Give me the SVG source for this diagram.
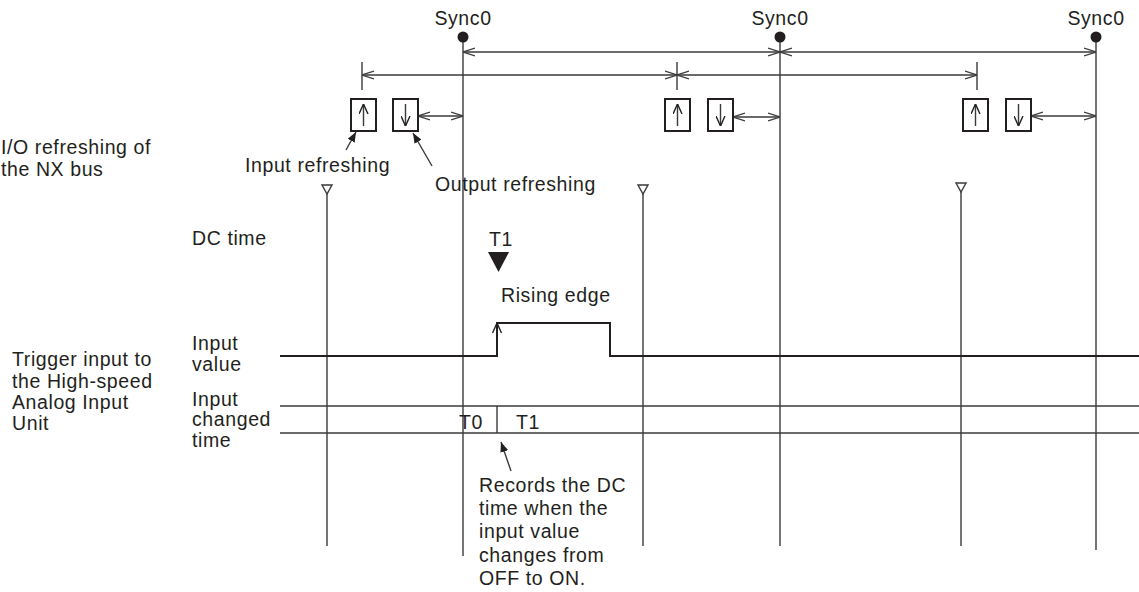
<svg xmlns="http://www.w3.org/2000/svg" width="1139" height="592" viewBox="0 0 1139 592">
<style>
text{font-family:"Liberation Sans",Arial,sans-serif;font-size:19.5px;letter-spacing:0.6px;fill:#231f20}
.ln{stroke:#3a3a3a;stroke-width:1.4;fill:none}
.dim{stroke:#3a3a3a;stroke-width:1.3;fill:none;marker-start:url(#oa);marker-end:url(#oa)}
.box{stroke:#231f20;stroke-width:2;fill:#fff}
.sig{stroke:#231f20;stroke-width:2;fill:none}
.tri{stroke:#3a3a3a;stroke-width:1.4;fill:#fff}
.c{text-anchor:middle}
</style>
<defs>
<marker id="oa" viewBox="0 0 12 10" refX="12" refY="5" markerWidth="12" markerHeight="10" markerUnits="userSpaceOnUse" orient="auto-start-reverse">
<path d="M0,1 L12,5 L0,9" fill="none" stroke="#3a3a3a" stroke-width="1.3"/>
</marker>
<marker id="fa" viewBox="0 0 10 8" refX="10" refY="4" markerWidth="10" markerHeight="8" markerUnits="userSpaceOnUse" orient="auto">
<path d="M0,0 L10,4 L0,8 z" fill="#231f20"/>
</marker>
<marker id="sa" viewBox="0 0 10 10" refX="10" refY="5" markerWidth="10" markerHeight="10" markerUnits="userSpaceOnUse" orient="auto">
<path d="M0,0.5 L10,5 L0,9.5" fill="none" stroke="#231f20" stroke-width="1.4"/>
</marker>
</defs>

<g id="connectors">
<line class="ln" x1="463" y1="37" x2="463" y2="556"/>
<line class="ln" x1="780" y1="37" x2="780" y2="546"/>
<line class="ln" x1="1096" y1="37" x2="1096" y2="550"/>
<line class="ln" x1="327" y1="194" x2="327" y2="546"/>
<line class="ln" x1="643" y1="194" x2="643" y2="546"/>
<line class="ln" x1="961" y1="192" x2="961" y2="546"/>
<line class="dim" x1="463" y1="52" x2="780" y2="52"/>
<line class="dim" x1="780" y1="52" x2="1096" y2="52"/>
<line class="ln" x1="362" y1="62" x2="362" y2="90"/>
<line class="ln" x1="677" y1="62" x2="677" y2="90"/>
<line class="ln" x1="977" y1="62" x2="977" y2="90"/>
<line class="dim" x1="362" y1="75" x2="677" y2="75"/>
<line class="dim" x1="677" y1="75" x2="977" y2="75"/>
<line class="dim" x1="418" y1="116" x2="463" y2="116"/>
<line class="dim" x1="733" y1="117" x2="780" y2="117"/>
<line class="dim" x1="1031" y1="116" x2="1096" y2="116"/>
<line class="ln" x1="346" y1="150" x2="356" y2="132" style="marker-end:url(#fa)"/>
<line class="ln" x1="432" y1="166" x2="413" y2="133" style="marker-end:url(#fa)"/>
<line class="ln" x1="511" y1="471" x2="501" y2="442" style="marker-end:url(#fa)"/>
<path class="sig" d="M280,356 H497 V323 H610 V356 H1139"/>
<line class="sig" x1="497" y1="340" x2="497" y2="323" style="marker-end:url(#sa)"/>
<line class="ln" x1="280" y1="406" x2="1139" y2="406"/>
<line class="ln" x1="280" y1="433" x2="1139" y2="433"/>
<line class="ln" x1="497" y1="406" x2="497" y2="433"/>
</g>

<g id="sync0-1"><circle cx="463" cy="37" r="5.5" fill="#231f20"/><text class="c" x="463" y="25">Sync0</text></g>
<g id="sync0-2"><circle cx="780" cy="37" r="5.5" fill="#231f20"/><text class="c" x="780" y="25">Sync0</text></g>
<g id="sync0-3"><circle cx="1096" cy="37" r="5.5" fill="#231f20"/><text class="c" x="1096" y="25">Sync0</text></g>

<g id="refresh-1">
<rect class="box" x="351" y="99" width="25" height="32"/>
<line class="ln" x1="363.5" y1="126" x2="363.5" y2="104" style="marker-end:url(#sa)"/>
<rect class="box" x="393" y="99" width="25" height="32"/>
<line class="ln" x1="405.5" y1="104" x2="405.5" y2="126" style="marker-end:url(#sa)"/>
</g>
<g id="refresh-2">
<rect class="box" x="665" y="99" width="25" height="32"/>
<line class="ln" x1="677.5" y1="126" x2="677.5" y2="104" style="marker-end:url(#sa)"/>
<rect class="box" x="708" y="99" width="25" height="32"/>
<line class="ln" x1="720.5" y1="104" x2="720.5" y2="126" style="marker-end:url(#sa)"/>
</g>
<g id="refresh-3">
<rect class="box" x="963" y="99" width="25" height="32"/>
<line class="ln" x1="975.5" y1="126" x2="975.5" y2="104" style="marker-end:url(#sa)"/>
<rect class="box" x="1006" y="99" width="25" height="32"/>
<line class="ln" x1="1018.5" y1="104" x2="1018.5" y2="126" style="marker-end:url(#sa)"/>
</g>

<g id="triggers">
<path class="tri" d="M322,185 H332 L327,194 Z"/>
<path class="tri" d="M638,185 H648 L643,194 Z"/>
<path class="tri" d="M956,183 H966 L961,192 Z"/>
</g>

<g id="dc-time-marker">
<text x="489" y="246">T1</text>
<path d="M488,252 H509 L498.5,272 Z" fill="#231f20"/>
<text x="501" y="302">Rising edge</text>
</g>

<g id="labels">
<text x="1" y="154">I/O refreshing of</text>
<text x="1" y="176">the NX bus</text>
<text x="245" y="172">Input refreshing</text>
<text x="435" y="191">Output refreshing</text>
<text x="192" y="245">DC time</text>
<text x="12" y="366">Trigger input to</text>
<text x="12" y="388">the High-speed</text>
<text x="12" y="409">Analog Input</text>
<text x="12" y="430">Unit</text>
<text x="192" y="350">Input</text>
<text x="192" y="371">value</text>
<text x="192" y="406">Input</text>
<text x="192" y="426">changed</text>
<text x="192" y="447">time</text>
<text x="459" y="429">T0</text>
<text x="516" y="429">T1</text>
</g>

<g id="note">
<text x="479" y="492">Records the DC</text>
<text x="479" y="515">time when the</text>
<text x="479" y="538">input value</text>
<text x="479" y="562">changes from</text>
<text x="479" y="585">OFF to ON.</text>
</g>
</svg>
